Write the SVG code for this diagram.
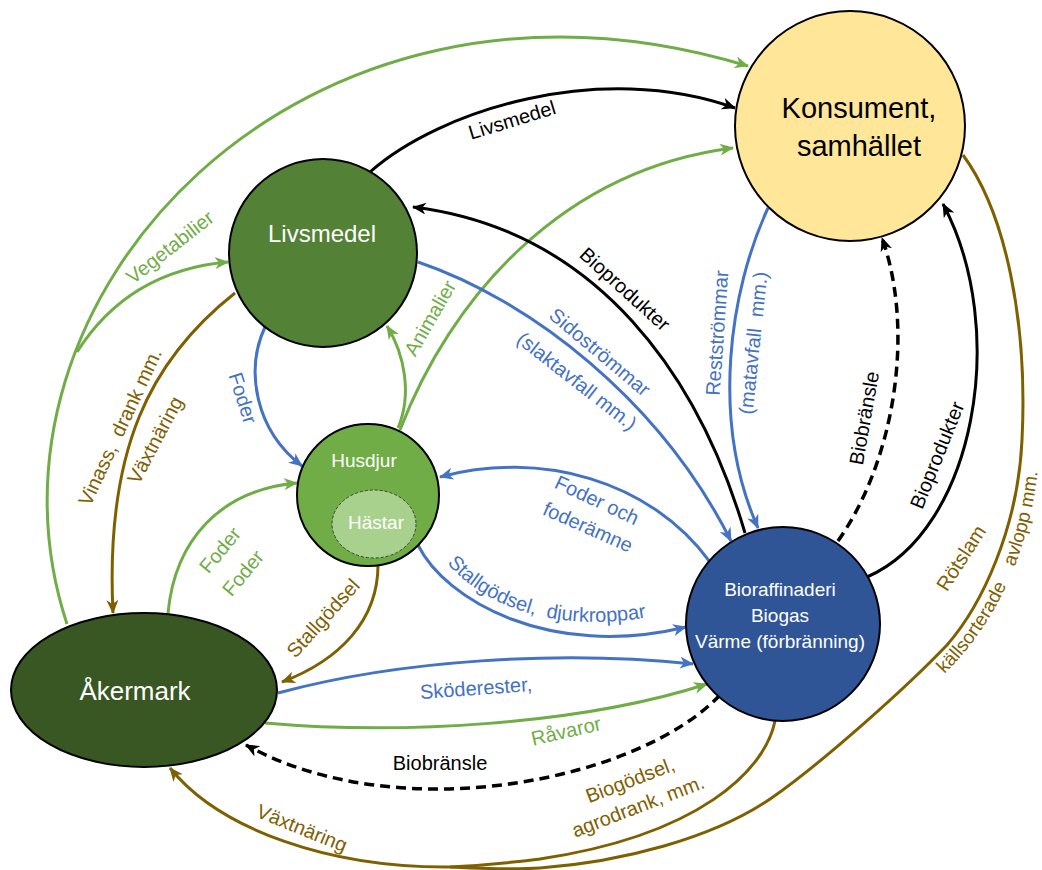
<svg xmlns="http://www.w3.org/2000/svg" width="1042" height="870" viewBox="0 0 1042 870">
<style>
text{font-family:"Liberation Sans",Arial,sans-serif}
.node{stroke:#000;stroke-width:2}
.nt{fill:#fff;text-anchor:middle}
.c{fill:none;stroke-width:3}
.g{stroke:#70ad47}
.b{stroke:#4472c4}
.k{stroke:#000}
.n{stroke:#7f6000}
.d{stroke-dasharray:10 6;stroke-width:3.5}
.l{font-size:20px;text-anchor:middle;dominant-baseline:central}
.lg{fill:#70ad47}
.lb{fill:#4472c4}
.lk{fill:#000}
.ln{fill:#7f6000}
</style>
<defs>
<marker id="ag" viewBox="0 0 14 12" refX="13" refY="6" markerWidth="14" markerHeight="12" markerUnits="userSpaceOnUse" orient="auto"><path d="M0,0 L14,6 L0,12 L4,6 Z" fill="#70ad47"/></marker>
<marker id="ab" viewBox="0 0 14 12" refX="13" refY="6" markerWidth="14" markerHeight="12" markerUnits="userSpaceOnUse" orient="auto"><path d="M0,0 L14,6 L0,12 L4,6 Z" fill="#4472c4"/></marker>
<marker id="ak" viewBox="0 0 14 12" refX="13" refY="6" markerWidth="14" markerHeight="12" markerUnits="userSpaceOnUse" orient="auto"><path d="M0,0 L14,6 L0,12 L4,6 Z" fill="#000"/></marker>
<marker id="an" viewBox="0 0 14 12" refX="13" refY="6" markerWidth="14" markerHeight="12" markerUnits="userSpaceOnUse" orient="auto"><path d="M0,0 L14,6 L0,12 L4,6 Z" fill="#7f6000"/></marker>
<path id="tpStall" d="M 431,539 C 458,594 546,647 684,609"/>
<path id="tpKall" d="M 931,686 C 985,640 1035,560 1040,441"/>
</defs>
<rect width="1042" height="870" fill="#fff"/>

<g id="connectors">
<path class="c g" d="M 67,624 C -40,300 300,-70 748,66" marker-end="url(#ag)"/>
<path class="c g" d="M 77,352 C 110,300 160,268 228,262" marker-end="url(#ag)"/>
<path class="c g" d="M 398,428 C 412,395 405,355 387,326" marker-end="url(#ag)"/>
<path class="c g" d="M 400,430 C 450,300 560,170 733,148" marker-end="url(#ag)"/>
<path class="c g" d="M 168,613 C 175,540 220,490 297,483" marker-end="url(#ag)"/>
<path class="c g" d="M 265,723 C 400,735 580,725 707,684" marker-end="url(#ag)"/>

<path class="c b" d="M 265,327 C 245,370 255,430 302,466" marker-end="url(#ab)"/>
<path class="c b" d="M 418,262 C 530,300 660,400 731,541" marker-end="url(#ab)"/>
<path class="c b" d="M 768,208 C 730,290 710,420 758,528" marker-end="url(#ab)"/>
<path class="c b" d="M 710,562 C 650,480 540,450 440,477" marker-end="url(#ab)"/>
<path class="c b" d="M 418,545 C 445,600 550,660 686,627" marker-end="url(#ab)"/>
<path class="c b" d="M 278,693 C 400,660 560,650 693,664" marker-end="url(#ab)"/>

<path class="c k" d="M 370,172 C 440,110 600,60 735,108" marker-end="url(#ak)"/>
<path class="c k" d="M 745,533 C 700,380 600,230 413,207" marker-end="url(#ak)"/>
<path class="c k" d="M 867,577 C 975,530 1010,330 943,204" marker-end="url(#ak)"/>
<path class="c k d" d="M 838,541 C 895,460 915,330 882,238" marker-end="url(#ak)"/>
<path class="c k d" d="M 720,695 C 640,780 400,830 246,745" marker-end="url(#ak)"/>

<path class="c n" d="M 235,293 C 150,360 105,450 113,613" marker-end="url(#an)"/>
<path class="c n" d="M 378,565 C 378,620 340,660 282,682" marker-end="url(#an)"/>
<path class="c n" d="M 775,721 C 765,770 700,835 540,859 C 500,864 470,866 450,867"/>
<path class="c n" d="M 963,155 C 1005,212 1028,320 1022,440 C 1018,528 982,605 947,645 C 907,687 823,762 773,797 C 713,839 620,862 540,868 C 510,870 470,868 450,867"/>
<path class="c n" d="M 450,867 C 330,868 220,830 170,768" marker-end="url(#an)"/>
</g>

<g id="labels">
<text class="l lg" transform="translate(170,247) rotate(-38)">Vegetabilier</text>
<text class="l lk" transform="translate(512,120) rotate(-17)">Livsmedel</text>
<text class="l lg" transform="translate(430,318) rotate(-60)">Animalier</text>
<text class="l lb" transform="translate(243,398) rotate(72)">Foder</text>
<text class="l ln" xml:space="preserve" transform="translate(120,427) rotate(-65)">Vinass,  drank mm.</text>
<text class="l ln" transform="translate(155,440) rotate(-62)">Växtnäring</text>
<text class="l lg" transform="translate(220,550) rotate(-50)">Foder</text>
<text class="l lg" transform="translate(243,573) rotate(-50)">Foder</text>
<text class="l ln" transform="translate(323,618) rotate(-48)">Stallgödsel</text>
<text class="l lb" transform="translate(600,352) rotate(40)">Sidoströmmar</text>
<text class="l lb" transform="translate(577,381) rotate(38)">(slaktavfall mm.)</text>
<text class="l lk" transform="translate(625,289) rotate(42)">Bioprodukter</text>
<text class="l lb" transform="translate(717,333) rotate(-86)">Restströmmar</text>
<text class="l lb" xml:space="preserve" transform="translate(753,343) rotate(-84)">(matavfall  mm.)</text>
<text class="l lb" transform="translate(597,500) rotate(25)">Foder och</text>
<text class="l lb" transform="translate(588,527) rotate(24)">foderämne</text>
<text style="font-size:20px" class="lb" xml:space="preserve"><textPath href="#tpStall" startOffset="29">Stallgödsel,  djurkroppar</textPath></text>
<text class="l lb" transform="translate(476,688) rotate(-4)">Sköderester,</text>
<text class="l lg" transform="translate(566,731) rotate(-13)">Råvaror</text>
<text class="l lk" transform="translate(440,763)">Biobränsle</text>
<text class="l ln" transform="translate(630,780) rotate(-21)">Biogödsel,</text>
<text class="l ln" transform="translate(638,806) rotate(-21)">agrodrank, mm.</text>
<text class="l ln" transform="translate(302,828) rotate(22)">Växtnäring</text>
<text class="l lk" transform="translate(864,418) rotate(-80)">Biobränsle</text>
<text class="l lk" transform="translate(937,455) rotate(-68)">Bioprodukter</text>
<text class="l ln" transform="translate(961,558) rotate(-57)">Rötslam</text>
<text style="font-size:19px" class="ln"><textPath href="#tpKall" startOffset="18">källsorterade<tspan dx="20">avlopp mm.</tspan></textPath></text>
</g>

<g id="node-konsument">
<circle class="node" cx="850" cy="126" r="115" fill="#ffe699"/>
<text x="859" y="118" style="font-size:29px;text-anchor:middle" fill="#000">Konsument,</text>
<text x="859" y="156" style="font-size:29px;text-anchor:middle" fill="#000">samhället</text>
</g>

<g id="node-livsmedel">
<circle class="node" cx="323" cy="253" r="94" fill="#538135"/>
<text class="nt" x="322" y="242" style="font-size:24px">Livsmedel</text>
</g>

<g id="node-husdjur">
<circle class="node" cx="368" cy="495" r="71" fill="#70ad47"/>
<text class="nt" x="364" y="467" style="font-size:19px">Husdjur</text>
</g>

<g id="node-hastar">
<ellipse cx="374" cy="524" rx="42" ry="34" fill="#a9d18e" stroke="#404040" stroke-width="1" stroke-dasharray="3 2"/>
<text class="nt" x="376" y="529" style="font-size:19px">Hästar</text>
</g>

<g id="node-akermark">
<ellipse class="node" cx="144" cy="690" rx="133" ry="77" fill="#385723"/>
<text class="nt" x="135" y="700" style="font-size:26px">Åkermark</text>
</g>

<g id="node-bioraffinaderi">
<circle class="node" cx="783" cy="624" r="97" fill="#2f5597"/>
<text class="nt" x="780" y="596" style="font-size:19px">Bioraffinaderi</text>
<text class="nt" x="780" y="622" style="font-size:19px">Biogas</text>
<text class="nt" x="780" y="648" style="font-size:19px">Värme (förbränning)</text>
</g>
</svg>
